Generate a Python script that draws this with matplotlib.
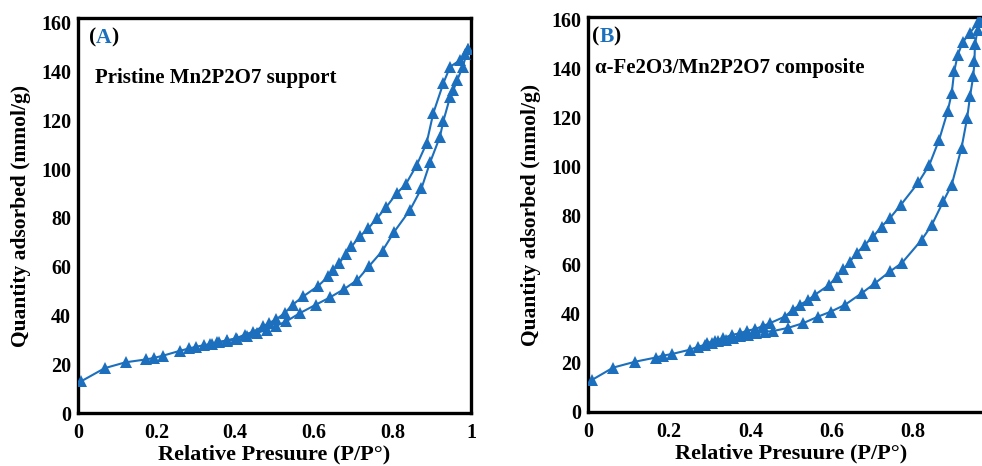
import matplotlib
matplotlib.use("Agg")
import matplotlib.pyplot as plt

# ---- Panel A: pristine Mn2P2O7 support ----
ads_A_x = [0.008, 0.068, 0.121, 0.174, 0.193, 0.216, 0.259, 0.283, 0.301, 0.32, 0.34,
           0.36, 0.38, 0.405, 0.43, 0.455, 0.48, 0.505, 0.53, 0.565, 0.605, 0.641,
           0.677, 0.711, 0.741, 0.775, 0.805, 0.845, 0.874, 0.896, 0.921, 0.930,
           0.947, 0.955, 0.965, 0.979, 0.993]
ads_A_y = [13.0, 18.4, 20.8, 22.0, 22.6, 23.5, 25.5, 26.5, 27.2, 27.8, 28.4,
           29.0, 29.6, 30.5, 31.6, 32.8, 34.2, 35.8, 37.6, 41.0, 44.4, 47.4,
           50.8, 54.6, 60.3, 66.6, 74.4, 83.3, 92.1, 102.8, 113.3, 119.9,
           129.7, 132.4, 136.5, 142.0, 149.5]
des_A_x = [0.993, 0.985, 0.972, 0.947, 0.930, 0.904, 0.887, 0.862, 0.834, 0.811,
           0.785, 0.761, 0.739, 0.717, 0.696, 0.681, 0.665, 0.649, 0.637, 0.611,
           0.573, 0.546, 0.526, 0.505, 0.486, 0.471, 0.446, 0.424, 0.403, 0.378,
           0.355, 0.335]
des_A_y = [149.5, 147.4, 144.7, 142.0, 135.4, 122.9, 110.6, 101.7, 93.8, 90.1,
           84.6, 79.9, 75.8, 72.4, 68.3, 65.3, 61.4, 58.7, 56.0, 52.1,
           47.8, 44.4, 41.0, 38.5, 36.9, 35.5, 33.4, 32.1, 30.7, 29.8,
           29.0, 28.3]

# ---- Panel B: alpha-Fe2O3/Mn2P2O7 composite ----
ads_B_x = [0.009, 0.062, 0.116, 0.167, 0.185, 0.206, 0.251, 0.271, 0.288, 0.305,
           0.32, 0.34, 0.357, 0.375, 0.395, 0.415, 0.435, 0.456, 0.493, 0.53,
           0.567, 0.598, 0.633, 0.674, 0.707, 0.744, 0.773, 0.822, 0.847, 0.875,
           0.896, 0.92, 0.934, 0.941, 0.949, 0.952, 0.953, 0.96, 0.966]
ads_B_y = [13.0, 18.1, 20.5, 22.2, 23.0, 23.6, 25.4, 26.6, 27.4, 28.2,
           28.8, 29.4, 30.1, 30.8, 31.5, 32.2, 32.7, 33.0, 34.3, 36.2,
           38.9, 40.9, 43.7, 48.4, 52.5, 57.3, 60.7, 70.2, 76.3, 85.8,
           92.7, 107.6, 119.9, 128.7, 136.9, 143.0, 149.8, 155.9, 159.3]
des_B_x = [0.966, 0.961, 0.941, 0.923, 0.911, 0.902, 0.896, 0.886, 0.865, 0.841,
           0.814, 0.771, 0.744, 0.723, 0.703, 0.682, 0.662, 0.645, 0.629, 0.613,
           0.594, 0.559, 0.543, 0.522, 0.504, 0.485, 0.448, 0.432, 0.411, 0.391,
           0.374, 0.354, 0.333, 0.313, 0.292]
des_B_y = [159.3, 158.8, 154.6, 150.7, 145.7, 138.9, 130.1, 122.6, 111.0, 100.8,
           93.6, 84.5, 79.1, 75.6, 71.6, 68.2, 64.8, 61.3, 58.2, 55.2,
           51.8, 47.8, 45.7, 43.7, 41.6, 38.9, 36.2, 35.1, 33.8, 33.1,
           32.1, 31.4, 30.1, 29.1, 28.0]

x_ticks = [0, 0.2, 0.4, 0.6, 0.8, 1]
x_tick_labels = ["0", "0.2", "0.4", "0.6", "0.8", "1"]
y_ticks = [0, 20, 40, 60, 80, 100, 120, 140, 160]

panel_letters = ["A", "B"]
panel_names = ["Pristine Mn2P2O7 support", "\u03b1-Fe2O3/Mn2P2O7 composite"]
x_label = "Relative Presuure (P/P\u00b0)"
y_label = "Quantity adsorbed (mmol/g)"

BLUE = "#1b6fbd"
FONT = "Liberation Serif"

plt.rcParams["font.family"] = [FONT, "DejaVu Serif"]
plt.rcParams["font.weight"] = "bold"

fig = plt.figure(figsize=(9.82, 4.66), dpi=100)
axA = fig.add_axes([0.0794, 0.1137, 0.4002, 0.8476])
axB = fig.add_axes([0.5988, 0.1159, 0.4134, 0.8476])

panels = [
    (axA, ads_A_x, ads_A_y, des_A_x, des_A_y, 162.0, (0.028, 0.925), (0.043, 0.835)),
    (axB, ads_B_x, ads_B_y, des_B_x, des_B_y, 161.0, (0.010, 0.925), (0.017, 0.858)),
]

for i, (ax, ax_x, ax_y, dx, dy, ytop, tag_pos, name_pos) in enumerate(panels):
    for xs, ys in ((ax_x, ax_y), (dx, dy)):
        ax.plot(xs, ys, color=BLUE, lw=1.5, marker="^", ms=8.5,
                markeredgewidth=0, markerfacecolor=BLUE, zorder=3)
    ax.set_xlim(0, 1)
    ax.set_ylim(0, ytop)
    ax.set_xticks(x_ticks)
    ax.set_xticklabels(x_tick_labels)
    ax.set_yticks(y_ticks)
    ax.tick_params(length=0, labelsize=14.5)
    ax.tick_params(axis="y", pad=5)
    ax.tick_params(axis="x", pad=7)
    for lab in ax.get_xticklabels() + ax.get_yticklabels():
        lab.set_fontweight("bold")
    for sp in ax.spines.values():
        sp.set_linewidth(2.4)
        sp.set_color("black")
    ax.set_xlabel(x_label, fontsize=16, fontweight="bold", labelpad=1.5)
    ax.set_ylabel(y_label, fontsize=15.5, fontweight="bold", labelpad=7)

    # panel tag "(A)" with the letter in blue
    t1 = ax.text(tag_pos[0], tag_pos[1], "(", transform=ax.transAxes, fontsize=15.5,
                 fontweight="bold", va="bottom", ha="left")
    t2 = ax.annotate(panel_letters[i], xy=(1, 0), xycoords=t1, fontsize=15.5,
                     fontweight="bold", color=BLUE, va="bottom", ha="left")
    ax.annotate(")", xy=(1, 0), xycoords=t2, fontsize=15.5,
                fontweight="bold", va="bottom", ha="left")

    ax.text(name_pos[0], name_pos[1], panel_names[i], transform=ax.transAxes,
            fontsize=15, fontweight="bold", va="baseline", ha="left")

fig.savefig("out.png", dpi=100)
